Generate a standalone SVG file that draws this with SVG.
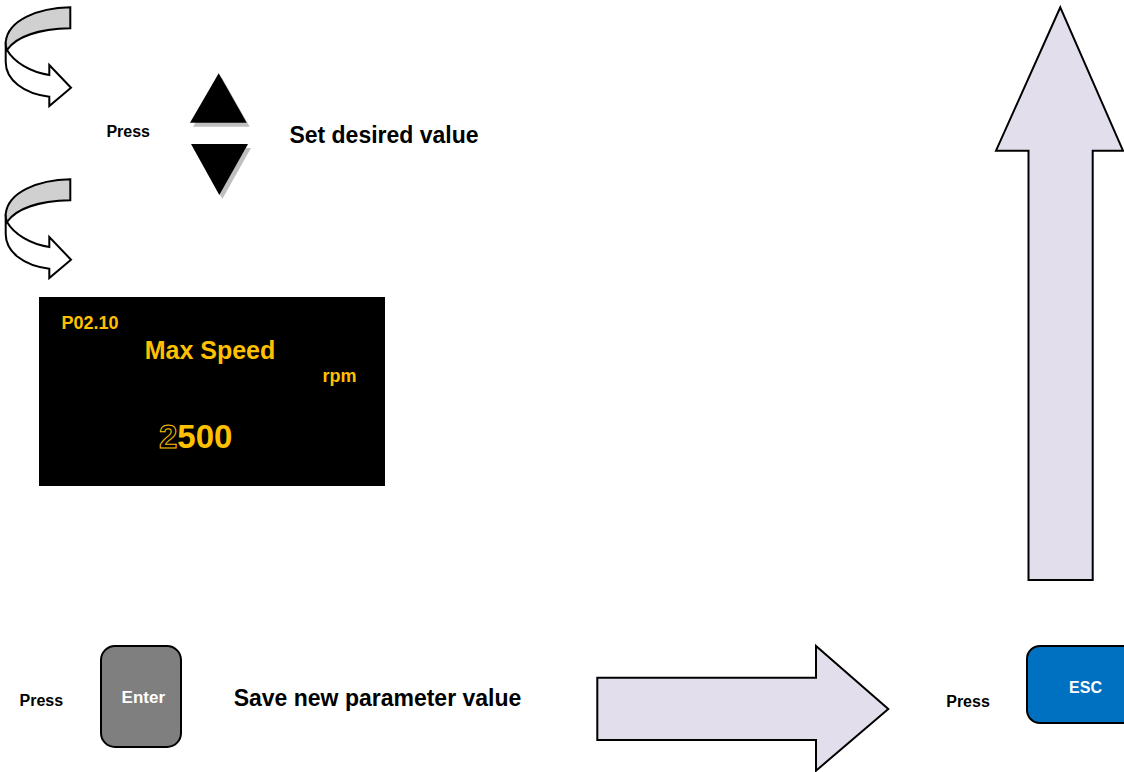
<svg xmlns="http://www.w3.org/2000/svg" width="1124" height="772" viewBox="0 0 1124 772">
<style>
text{font-family:"Liberation Sans",Arial,sans-serif;font-weight:bold;text-anchor:middle}
.lbl{fill:#000}
.big{fill:#E2DEEB;stroke:#000;stroke-width:2;stroke-linejoin:miter}
.curl-w{fill:#fff;stroke:#000;stroke-width:2;stroke-linejoin:miter}
.curl-g{fill:#D0D0D0;stroke:#000;stroke-width:2}
.disp{fill:#FFC000}
.shadow{fill:#BFBFBF}
</style>
<defs>
<g id="curl">
<path class="curl-w" d="M7,50 C14,62 30,72 49.3,75 L49.3,65 L71,87.7 L49.3,106 L49.3,96.7 C24,94 5.7,80 5.7,62 L5.7,42 Z"/>
<path class="curl-g" d="M70.3,7.3 L70.3,28.3 C38,29 16,37 7,50 C5.8,47 5.6,44 5.7,42 C8,20 38,8 70.3,7.3 Z"/>
</g>
</defs>
<rect width="1124" height="772" fill="#fff"/>
<g id="connectors">
<use href="#curl"/>
<use href="#curl" transform="translate(0,172)"/>
<polygon class="big" points="1060.3,7.3 1123,150.7 1092.7,150.7 1092.7,580 1028.5,580 1028.5,150.7 996,150.7"/>
<polygon class="big" points="597.3,677.7 816,677.7 816,646 888.3,709 816,770.7 816,740 597.3,740"/>
</g>
<g id="step-set">
<text class="lbl" x="128.2" y="136.5" font-size="16">Press</text>
<polygon class="shadow" points="221.7,77.3 193,126.7 249.7,126.7"/>
<polygon fill="#000" points="218.7,73.3 190,122.7 246.7,122.7"/>
<polygon class="shadow" points="194,148 251,148 222.3,199"/>
<polygon fill="#000" points="191,144 248,144 219.3,195"/>
<text class="lbl" x="384" y="143" font-size="23">Set desired value</text>
</g>
<g id="display">
<rect x="39" y="297" width="346" height="189" fill="#000"/>
<text class="disp" x="90" y="329" font-size="18">P02.10</text>
<text class="disp" x="210" y="359" font-size="25">Max Speed</text>
<text class="disp" x="339.5" y="381.5" font-size="18">rpm</text>
<text class="disp" x="159" y="448" font-size="33" style="text-anchor:start"><tspan fill="none" stroke="#FFC000" stroke-width="1">2</tspan>500</text>
</g>
<g id="step-enter">
<text class="lbl" x="41.3" y="706" font-size="16">Press</text>
<rect x="101" y="646" width="80" height="101" rx="14" fill="#7F7F7F" stroke="#000" stroke-width="2"/>
<text x="143.3" y="702.5" font-size="17" fill="#fff">Enter</text>
<text class="lbl" x="377.5" y="706" font-size="23">Save new parameter value</text>
</g>
<g id="step-esc">
<text class="lbl" x="968" y="706.5" font-size="16">Press</text>
<rect x="1027" y="646" width="120" height="77" rx="13" fill="#0070C0" stroke="#000" stroke-width="2"/>
<text x="1085.5" y="693" font-size="16" fill="#fff">ESC</text>
</g>
</svg>
